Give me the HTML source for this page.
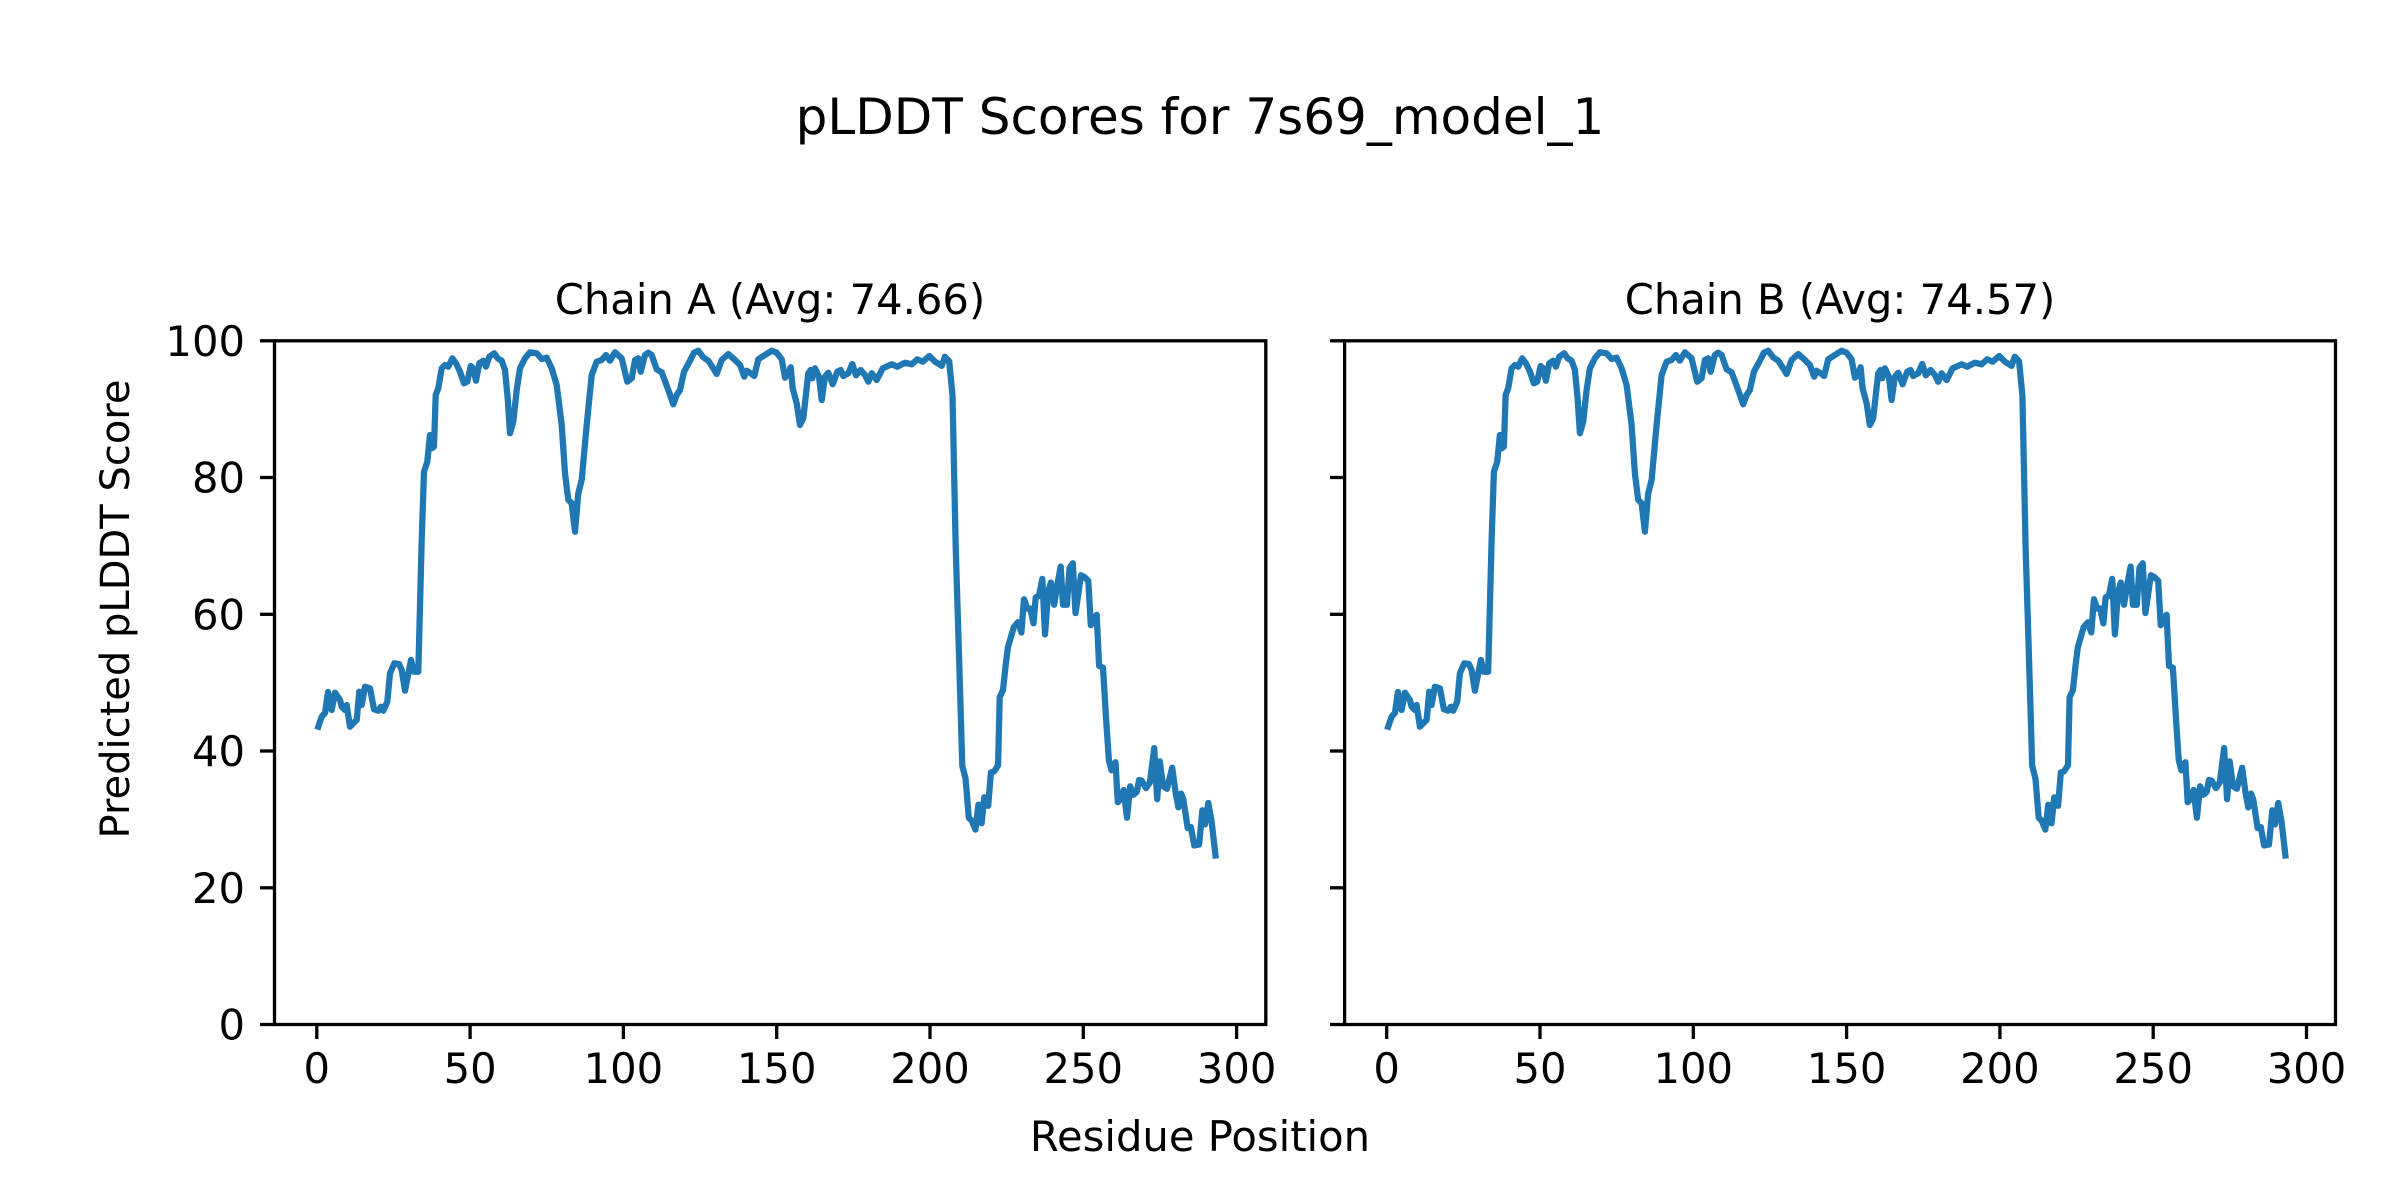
<!DOCTYPE html>
<html><head><meta charset="utf-8"><style>
html,body{margin:0;padding:0;background:#fff;}
svg{display:block;}
text{font-family:"DejaVu Sans","Liberation Sans",sans-serif;fill:#000;}
</style></head><body>
<svg width="2400" height="1200" viewBox="0 0 2400 1200" xmlns="http://www.w3.org/2000/svg">
<rect width="2400" height="1200" fill="#fff"/>
<text x="1200" y="134" font-size="50" text-anchor="middle">pLDDT Scores for 7s69_model_1</text>
<text x="770" y="314" font-size="41.7" text-anchor="middle">Chain A (Avg: 74.66)</text>
<text x="1840" y="314" font-size="41.7" text-anchor="middle">Chain B (Avg: 74.57)</text>
<text x="1200" y="1151" font-size="41.7" text-anchor="middle">Residue Position</text>
<text transform="translate(129,609) rotate(-90)" font-size="40" text-anchor="middle">Predicted pLDDT Score</text>

<defs>
<polyline id="series" fill="none" stroke="#1f77b4" stroke-width="6.25" stroke-linejoin="round" stroke-linecap="square" points="318.3,726.7 321.7,716.7 325,713 328,692 331.7,710 335,692.7 340,700 341.7,706.7 345,710 346.7,705 350,726.7 353.3,723.3 356.7,720 359.3,691.7 361.7,705 365,686.7 370,688.3 374,709.3 378.3,710.7 381,706.7 383.3,710.7 387.3,701.7 390,673.3 394.3,663.3 399,664 401.7,670 405,690.7 411,660 414,671.7 418.3,671.7 421.7,540 424,471.7 427.3,461.7 430,435 431.7,448.3 434,446.7 435.7,395 438.3,388.3 441.7,368.3 445,365 448.3,366.7 452.3,358.3 456,363.3 460,371.7 464,383.3 467.3,381.7 470.7,366 473.3,368.3 476,380.7 479.3,363.3 483.3,360.7 486,366.7 489.3,356.7 494.3,353.3 497.7,358.3 501.7,360.7 505,370 507.7,398.3 510,433.3 513.3,421.7 516.7,390 520,368.3 525,358.3 530,352.3 536.7,353.3 541.7,359 546.7,357.7 551.7,368.3 556.7,385 561.7,425 565,473.3 568.3,500 571.7,503.3 575,531.7 578.3,493.3 581.7,480 586.7,425 591.7,375 596.7,361.7 601.7,360 606,355 610,360.7 615,352.3 621.7,358.3 627.3,381.7 631.7,378.3 635,360 638.3,358.3 640.7,371.7 645,355 648.3,352.7 651.7,355 656.7,369.3 661.7,372.3 668.3,390 673.3,404.3 676.7,395 680,390 684,371.7 690,360.7 694,352.7 698.3,350.7 703.3,357.3 708.3,360.7 713.3,368.3 716.7,374 721.7,360 728.3,354 735,360 740,365 744.3,376.7 746.7,370.7 750.7,373.3 754.3,376 758.3,359.3 765,355 771.7,350.7 776.7,352.7 781.7,359.3 785,377.7 788.3,373.3 790.7,367.3 792.7,388.3 796.7,403.3 800,425 803.3,418.3 808.3,373.3 810.7,370 812.3,378.3 815,368.3 819,376.7 821.7,400 825,376.7 828.3,372.7 832.7,384.3 837.3,371.7 840.7,370 843.3,376 848.3,373.3 852.3,364 856,375.3 860.7,370 865,375 868.3,381.7 871.7,373.3 876.7,380 882.7,368.3 891.7,364.3 897.3,366.7 905,362.7 911.7,364.3 917.3,359.3 922.7,361.7 929.3,356 935,361.7 941.7,365.9 944.9,356.7 949.2,361.4 952.5,395.6 955.7,547.4 959.0,654.8 962.3,765.9 965.6,778.9 968.8,817.8 971.8,820.7 975.4,829.6 978.4,804.7 981.6,823.3 984.3,797.4 988.2,805.8 990.9,772.5 994.1,771.4 998.1,765.2 999.7,697.4 1003.0,690.0 1005.6,665.9 1007.9,647.4 1013.8,627.0 1018.0,622.2 1021.4,632.5 1024.0,599.2 1027.3,608.5 1030.2,608.5 1033.5,623.3 1035.7,597.4 1039.1,595.5 1042.3,578.9 1045.0,634.4 1048.2,591.9 1050.9,582.6 1054.1,604.8 1057.4,584.4 1060.7,566.6 1063.0,604.8 1066.9,604.8 1069.6,567.8 1072.8,563.3 1075.5,613.0 1081.0,575.2 1084.4,577.0 1088.3,580.8 1090.8,625.2 1094.2,617.8 1096.7,614.8 1099.1,665.9 1103.0,667.7 1106.6,727.0 1108.9,760.3 1111.5,770.3 1115.5,762.2 1117.8,802.2 1120.4,799.2 1123.7,790.0 1127.0,817.7 1130.2,786.3 1133.6,794.7 1136.8,791.8 1139.1,780.0 1141.7,780.7 1146.0,788.1 1149.9,782.5 1154.2,748.1 1157.2,799.2 1159.8,761.4 1163.1,786.3 1167.0,788.8 1172.2,767.7 1175.5,791.8 1178.4,807.4 1181.1,793.6 1183.3,799.2 1187.7,828.1 1190.9,827.0 1194.2,845.5 1199.1,844.4 1202.4,810.3 1205.0,824.4 1208.3,803.0 1211.6,821.4 1215.5,855.5"/>
</defs>

<!-- Chain A -->
<use href="#series"/>
<rect x="274.5" y="340.8" width="991.3" height="683.7" fill="none" stroke="#000" stroke-width="3.3"/>
<g stroke="#000" stroke-width="3.3">
<line x1="260" y1="1024.5" x2="274.5" y2="1024.5"/>
<line x1="260" y1="887.8" x2="274.5" y2="887.8"/>
<line x1="260" y1="751.0" x2="274.5" y2="751.0"/>
<line x1="260" y1="614.3" x2="274.5" y2="614.3"/>
<line x1="260" y1="477.5" x2="274.5" y2="477.5"/>
<line x1="260" y1="340.8" x2="274.5" y2="340.8"/>
<line x1="316.8" y1="1024.5" x2="316.8" y2="1039"/>
<line x1="470.1" y1="1024.5" x2="470.1" y2="1039"/>
<line x1="623.4" y1="1024.5" x2="623.4" y2="1039"/>
<line x1="776.7" y1="1024.5" x2="776.7" y2="1039"/>
<line x1="930.0" y1="1024.5" x2="930.0" y2="1039"/>
<line x1="1083.3" y1="1024.5" x2="1083.3" y2="1039"/>
<line x1="1236.6" y1="1024.5" x2="1236.6" y2="1039"/>
</g>
<g font-size="41.7" text-anchor="end">
<text x="245" y="1039.5">0</text>
<text x="245" y="902.8">20</text>
<text x="245" y="766">40</text>
<text x="245" y="629.3">60</text>
<text x="245" y="492.5">80</text>
<text x="245" y="355.8">100</text>
</g>
<g font-size="41.7" text-anchor="middle">
<text x="316.8" y="1083">0</text>
<text x="470.1" y="1083">50</text>
<text x="623.4" y="1083">100</text>
<text x="776.7" y="1083">150</text>
<text x="930.0" y="1083">200</text>
<text x="1083.3" y="1083">250</text>
<text x="1236.6" y="1083">300</text>
</g>

<!-- Chain B -->
<use href="#series" transform="translate(1069.9,0)"/>
<rect x="1344.6" y="340.8" width="990.9" height="683.7" fill="none" stroke="#000" stroke-width="3.3"/>
<g stroke="#000" stroke-width="3.3">
<line x1="1330" y1="1024.5" x2="1344.6" y2="1024.5"/>
<line x1="1330" y1="887.8" x2="1344.6" y2="887.8"/>
<line x1="1330" y1="751.0" x2="1344.6" y2="751.0"/>
<line x1="1330" y1="614.3" x2="1344.6" y2="614.3"/>
<line x1="1330" y1="477.5" x2="1344.6" y2="477.5"/>
<line x1="1330" y1="340.8" x2="1344.6" y2="340.8"/>
<line x1="1386.7" y1="1024.5" x2="1386.7" y2="1039"/>
<line x1="1540.0" y1="1024.5" x2="1540.0" y2="1039"/>
<line x1="1693.3" y1="1024.5" x2="1693.3" y2="1039"/>
<line x1="1846.6" y1="1024.5" x2="1846.6" y2="1039"/>
<line x1="1999.9" y1="1024.5" x2="1999.9" y2="1039"/>
<line x1="2153.2" y1="1024.5" x2="2153.2" y2="1039"/>
<line x1="2306.5" y1="1024.5" x2="2306.5" y2="1039"/>
</g>
<g font-size="41.7" text-anchor="middle">
<text x="1386.7" y="1083">0</text>
<text x="1540.0" y="1083">50</text>
<text x="1693.3" y="1083">100</text>
<text x="1846.6" y="1083">150</text>
<text x="1999.9" y="1083">200</text>
<text x="2153.2" y="1083">250</text>
<text x="2306.5" y="1083">300</text>
</g>
</svg>
</body></html>
